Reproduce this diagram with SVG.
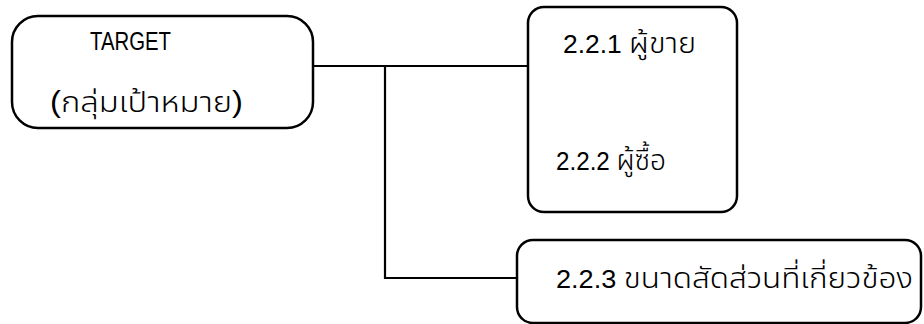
<svg xmlns="http://www.w3.org/2000/svg" width="924" height="324" viewBox="0 0 924 324">
<style>
.box{fill:#fff;stroke:#000;stroke-width:2.5}
.ln{fill:none;stroke:#000;stroke-width:2.2}
text{font-family:"Liberation Sans","Noto Sans Thai","Noto Sans",sans-serif;fill:#000;font-size:25px}
.th{font-size:29px;font-weight:300}
</style>
<rect width="924" height="324" fill="#fff"/>
<g id="connectors">
<path class="ln" d="M313 66 H528"/>
<path class="ln" d="M385 66 V278 H517"/>
</g>
<g id="target">
<rect class="box" x="12" y="16" width="301" height="112" rx="26" ry="26"/>
<text x="90" y="50" font-size="21" textLength="81" lengthAdjust="spacingAndGlyphs">TARGET</text>
<text class="th" x="50" y="112" textLength="193" lengthAdjust="spacingAndGlyphs">(กลุ่มเป้าหมาย)</text>
</g>
<g id="n221_222">
<rect class="box" x="528" y="7" width="209" height="205" rx="16" ry="16"/>
<text x="563" y="53" textLength="133" lengthAdjust="spacingAndGlyphs">2.2.1 <tspan class="th">ผู้ขาย</tspan></text>
<text x="556" y="170" textLength="110" lengthAdjust="spacingAndGlyphs">2.2.2 <tspan class="th">ผู้ซื้อ</tspan></text>
</g>
<g id="n223">
<rect class="box" x="517" y="240" width="404" height="83" rx="16" ry="16"/>
<text x="556" y="288" textLength="357" lengthAdjust="spacingAndGlyphs">2.2.3 <tspan class="th">ขนาดสัดส่วนที่เกี่ยวข้อง</tspan></text>
</g>
</svg>
